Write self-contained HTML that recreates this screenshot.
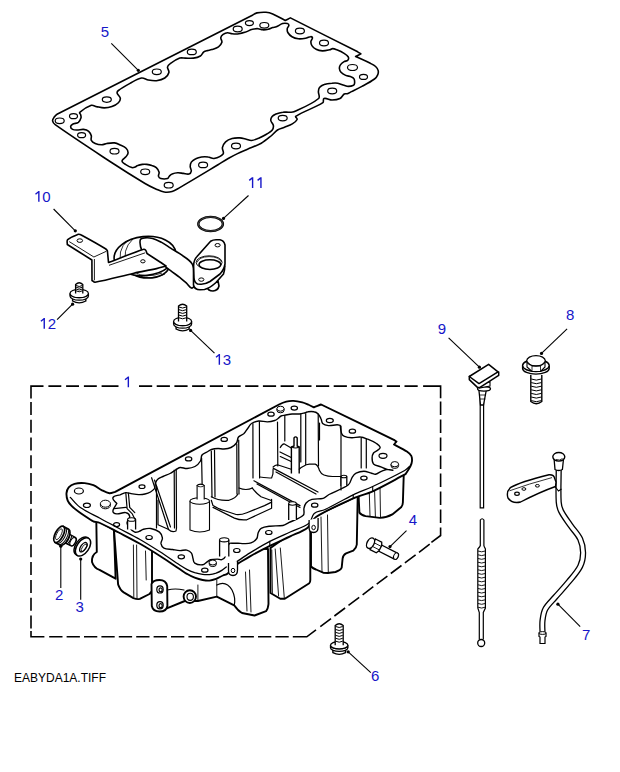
<!DOCTYPE html>
<html><head><meta charset="utf-8"><style>
html,body{margin:0;padding:0;background:#fff;}
svg{display:block;}
</style></head><body>
<svg width="620" height="772" viewBox="0 0 620 772">
<rect width="620" height="772" fill="#fff"/>
<g fill="none" stroke="#000" stroke-width="1.6" stroke-linejoin="round" stroke-linecap="round">
<path d="M52.6,120.8 C52.4,119.7 53.3,118.6 53.9,117.6 C54.8,116.3 55.6,114.9 57.0,114.2 C121.9,80.7 187.3,48.2 252.4,15.2 C253.9,14.4 255.3,13.3 256.9,12.9 C259.9,12.3 263.0,12.1 266.0,12.3 C268.3,12.5 270.6,13.1 272.7,14.0 C277.0,15.8 281.0,18.3 285.2,20.5 C286.9,19.6 288.7,18.8 290.4,17.9 C312.8,29.2 335.3,40.5 357.7,51.8 C358.8,52.5 359.8,53.2 360.9,53.9 C359.1,54.8 357.4,55.6 355.6,56.5 C360.5,58.8 365.5,60.9 370.3,63.3 C372.1,64.2 374.1,65.1 375.6,66.5 C376.8,67.6 377.8,69.0 378.2,70.6 C378.5,72.0 378.3,73.5 377.7,74.8 C377.0,76.4 375.9,78.0 374.5,79.0 C370.6,81.9 366.2,84.1 361.9,86.4 C358.5,88.3 355.0,89.9 351.5,91.6 C350.1,92.3 348.8,93.2 347.3,93.7 C346.3,94.0 345.1,93.4 344.2,94.0 C342.5,95.1 341.8,97.6 340.0,98.5 C337.6,99.7 334.7,100.0 332.0,100.0 C329.3,100.0 326.6,97.7 324.0,98.5 C322.6,98.9 324.1,101.9 322.9,102.7 C314.4,108.1 304.3,110.8 295.8,116.3 C294.8,116.9 297.6,118.5 297.1,119.5 C296.2,121.5 294.1,122.8 292.3,123.9 C289.9,125.4 287.1,126.2 284.5,127.3 C282.2,128.3 279.6,128.6 277.5,130.0 C275.0,131.6 273.3,134.1 271.0,136.0 C267.9,138.5 264.8,141.2 261.3,143.2 C256.9,145.7 252.1,147.2 247.5,149.2 C244.2,150.7 240.8,152.0 237.5,153.6 C234.3,155.1 231.2,156.8 228.2,158.5 C224.7,160.5 221.4,162.7 218.0,164.8 C205.0,172.6 192.0,180.5 178.9,188.1 C176.7,189.4 174.5,190.9 172.1,191.5 C169.5,192.2 166.8,192.4 164.2,192.0 C161.4,191.6 158.9,190.3 156.3,189.2 C152.4,187.5 148.6,185.7 145.0,183.5 C133.2,176.4 121.5,169.0 110.0,161.5 C91.6,149.4 73.1,137.4 55.2,124.7 C53.9,123.8 52.9,122.3 52.6,120.8Z"/>
<path d="M79.7,112.4 C83.1,109.4 87.0,106.8 91.3,105.3 C93.0,104.7 94.7,106.2 96.5,106.6 C99.1,107.1 101.6,107.9 104.2,107.9 C106.8,107.9 109.5,107.5 111.9,106.6 C114.3,105.7 116.6,104.5 118.4,102.7 C119.6,101.5 120.5,99.8 120.3,98.2 C120.0,96.2 117.6,95.0 117.1,93.1 C116.9,92.2 117.6,91.1 118.4,90.5 C122.0,87.8 126.0,85.6 130.0,83.4 C133.7,81.4 137.3,78.8 141.5,78.0 C143.8,77.6 146.0,79.6 148.3,80.0 C151.0,80.5 153.8,81.0 156.5,80.7 C159.4,80.3 162.4,79.6 164.8,78.0 C166.7,76.7 168.4,74.7 168.9,72.5 C169.4,70.7 167.2,68.9 167.5,67.0 C167.7,65.6 169.0,64.4 170.2,63.6 C173.2,61.4 176.3,59.4 179.8,58.1 C181.5,57.5 183.5,58.1 185.3,58.1 C188.0,58.1 190.8,58.5 193.5,58.1 C195.9,57.8 198.3,57.2 200.4,56.0 C201.9,55.1 202.4,53.0 203.8,51.9 C204.8,51.1 206.1,50.9 207.3,50.6 C208.8,50.2 210.3,50.1 211.8,49.6 C214.1,48.8 216.5,48.2 218.5,46.8 C220.0,45.7 221.4,44.1 221.9,42.3 C222.3,40.8 220.6,39.3 220.8,37.7 C221.0,36.4 222.0,35.2 223.1,34.4 C224.4,33.5 226.0,32.8 227.6,32.7 C229.1,32.6 230.6,33.7 232.1,33.8 C234.4,34.0 236.7,34.1 238.9,33.8 C241.2,33.5 243.4,32.8 245.6,32.1 C247.9,31.3 250.0,29.9 252.4,29.3 C254.2,28.8 256.2,28.6 258.1,28.7 C259.6,28.8 261.1,29.7 262.6,29.8 C264.5,29.9 266.4,29.7 268.2,29.3 C269.8,29.0 271.2,28.1 272.7,27.6 C273.9,27.2 275.2,27.3 276.3,26.8 C278.5,25.9 280.3,24.3 282.6,23.6 C284.1,23.2 285.8,23.2 287.3,23.6 C288.0,23.8 288.9,24.4 288.9,25.2 C288.9,26.4 287.5,27.2 287.3,28.3 C287.1,29.7 287.1,31.3 287.8,32.5 C288.8,34.2 290.3,35.7 292.0,36.7 C293.9,37.8 296.1,38.5 298.3,38.8 C300.7,39.1 303.2,38.7 305.6,38.3 C307.3,38.0 308.7,36.8 310.4,36.7 C311.2,36.6 312.4,37.0 312.5,37.8 C312.6,39.1 311.0,40.2 310.9,41.5 C310.8,42.9 311.1,44.4 311.9,45.6 C312.9,47.2 314.4,48.5 316.1,49.3 C318.0,50.3 320.2,50.8 322.4,50.9 C324.9,51.0 327.4,50.3 329.8,49.8 C330.8,49.6 331.6,48.6 332.6,48.6 C334.0,48.6 335.5,49.2 336.8,49.7 C339.3,50.7 341.8,51.8 344.1,53.3 C345.7,54.3 347.4,55.4 348.3,57.0 C348.8,58.0 348.5,59.4 347.8,60.2 C346.9,61.2 345.2,61.0 344.1,61.7 C342.7,62.6 341.3,63.6 340.4,64.9 C339.7,65.9 339.3,67.3 339.4,68.5 C339.5,69.8 340.1,71.2 341.0,72.2 C342.3,73.6 344.0,74.6 345.7,75.4 C347.5,76.2 349.7,76.1 351.5,76.9 C352.5,77.3 353.6,78.0 354.1,79.0 C354.7,80.3 354.7,81.8 354.6,83.2 C354.5,84.0 354.2,84.9 353.5,85.3 C351.9,86.1 350.1,86.4 348.3,86.4 C346.9,86.4 345.5,85.7 344.1,85.3 C342.0,84.7 340.0,83.6 337.8,83.2 C335.9,82.9 333.9,83.0 331.9,83.2 C329.3,83.4 326.7,83.6 324.2,84.5 C322.4,85.1 320.7,86.1 319.5,87.5 C318.6,88.6 318.5,90.1 318.4,91.5 C318.2,93.8 320.4,97.0 318.6,98.5 C311.4,104.5 302.4,107.9 293.9,111.8 C292.4,112.5 290.6,112.1 289.0,112.2 C287.0,112.3 284.9,111.9 282.9,112.2 C280.5,112.5 278.2,113.1 276.0,114.0 C274.6,114.6 273.1,115.3 272.1,116.5 C271.2,117.6 270.6,119.1 270.8,120.5 C271.1,122.4 273.1,123.7 273.4,125.6 C273.6,127.2 273.1,128.9 272.1,130.2 C270.8,131.9 268.7,132.9 266.9,134.0 C264.4,135.5 261.9,136.8 259.2,137.9 C256.7,139.0 254.2,140.2 251.5,140.5 C249.7,140.7 248.0,139.6 246.3,139.2 C244.1,138.7 242.0,138.0 239.8,137.9 C237.2,137.8 234.6,137.8 232.1,138.5 C229.8,139.1 227.4,140.1 225.6,141.8 C224.0,143.3 222.8,145.4 222.4,147.6 C222.0,149.7 224.4,152.3 223.1,154.0 C221.0,156.7 217.3,157.8 214.0,158.5 C212.0,158.9 210.2,157.2 208.2,157.0 C206.0,156.7 203.7,156.7 201.5,157.0 C199.5,157.3 197.6,157.8 195.8,158.7 C194.1,159.5 192.4,160.6 191.3,162.1 C190.4,163.4 190.2,165.1 190.2,166.6 C190.2,168.1 191.5,169.6 191.3,171.1 C191.1,172.3 190.2,173.7 189.0,174.0 C187.2,174.5 185.3,173.6 183.4,173.4 C181.5,173.2 179.6,172.7 177.7,172.8 C175.8,172.9 173.9,173.3 172.1,174.0 C171.0,174.4 170.1,175.4 169.3,176.2 C168.6,176.9 168.5,178.3 167.6,178.5 C165.4,179.1 163.0,179.1 160.8,178.5 C159.7,178.2 158.8,177.2 158.5,176.2 C158.2,174.9 159.4,173.6 159.1,172.3 C158.7,170.6 157.6,168.9 156.3,167.7 C155.1,166.6 153.4,166.0 151.8,165.5 C150.2,164.9 148.5,164.6 146.8,164.4 C145.3,164.2 143.8,164.2 142.3,164.4 C140.7,164.6 139.2,165.0 137.7,165.6 C136.6,166.0 135.6,166.9 134.5,167.3 C133.7,167.6 132.7,167.9 131.9,167.6 C129.6,166.9 127.5,165.6 125.5,164.4 C124.3,163.7 123.0,163.0 122.3,161.8 C121.9,161.2 122.2,160.3 122.6,159.8 C123.5,158.5 125.1,157.8 126.1,156.6 C127.0,155.4 128.1,154.2 128.1,152.7 C128.1,151.1 127.3,149.4 126.1,148.2 C124.5,146.6 122.3,145.9 120.3,145.0 C118.4,144.1 116.5,143.1 114.5,142.9 C111.9,142.6 109.3,143.1 106.8,143.5 C105.0,143.8 103.4,144.8 101.6,144.8 C99.4,144.8 97.2,144.4 95.2,143.5 C93.7,142.8 92.1,141.8 91.3,140.3 C90.6,139.0 91.7,137.2 91.3,135.8 C90.8,134.1 90.0,132.4 88.7,131.3 C87.3,130.1 85.3,129.6 83.5,129.4 C81.4,129.2 79.2,130.0 77.1,130.0 C75.6,130.0 74.0,130.1 72.6,129.4 C71.6,128.9 70.6,127.9 70.6,126.8 C70.6,125.7 71.7,124.7 72.6,124.2 C74.4,123.2 76.8,123.5 78.4,122.3 C79.8,121.2 80.5,119.4 81.0,117.7 C81.3,116.7 80.9,115.5 80.6,114.5 C80.4,113.8 79.1,112.9 79.7,112.4Z"/>
</g>
<g fill="none" stroke="#000" stroke-width="1.2">
<ellipse cx="59.7" cy="120.8" rx="4.5" ry="2.8"/>
<ellipse cx="73.5" cy="116.2" rx="4.0" ry="2.5"/>
<ellipse cx="81.6" cy="135.2" rx="4.0" ry="2.5"/>
<ellipse cx="106.8" cy="99.6" rx="4.5" ry="2.7"/>
<ellipse cx="114.5" cy="151.2" rx="4.5" ry="2.8"/>
<ellipse cx="145.2" cy="171.8" rx="4.5" ry="2.8"/>
<ellipse cx="156.8" cy="71.8" rx="4.5" ry="2.8"/>
<ellipse cx="168.7" cy="185.2" rx="4.5" ry="2.8"/>
<ellipse cx="191.8" cy="51.9" rx="4.5" ry="2.8"/>
<ellipse cx="203.1" cy="164.9" rx="4.5" ry="2.8"/>
<ellipse cx="236.0" cy="146.0" rx="4.5" ry="2.8"/>
<ellipse cx="237.7" cy="29.0" rx="4.5" ry="2.8"/>
<ellipse cx="249.4" cy="23.1" rx="4.0" ry="2.5"/>
<ellipse cx="264.3" cy="25.3" rx="4.5" ry="2.8"/>
<ellipse cx="282.7" cy="118.1" rx="4.5" ry="2.8"/>
<ellipse cx="299.9" cy="31.0" rx="4.5" ry="2.8"/>
<ellipse cx="324.0" cy="43.0" rx="4.5" ry="2.8"/>
<ellipse cx="332.2" cy="91.0" rx="4.5" ry="2.8"/>
<ellipse cx="352.5" cy="67.5" rx="5.0" ry="3.0"/>
<ellipse cx="363.5" cy="76.9" rx="4.0" ry="2.5"/>
</g>
<ellipse cx="148" cy="266" rx="21" ry="12" fill="#fff" stroke="#000" stroke-width="1.6" stroke-linejoin="round"/>
<ellipse cx="145" cy="256" rx="31" ry="19.5" transform="rotate(-6 145 256)" fill="#fff" stroke="#000" stroke-width="1.6" stroke-linejoin="round"/>
<g fill="none" stroke="#000" stroke-width="0.8">
<path d="M122,268 Q116,250 128,240"/>
<path d="M127,266 Q121,250 133,239"/>
<path d="M134,272 Q146,279 162,273"/>
<path d="M137,275 Q150,281 165,274"/>
</g>
<path d="M140.2,240.2 C140.5,238.6 143.0,238.1 144.7,237.9 C147.3,237.5 150.0,237.8 152.6,238.5 C155.8,239.3 158.7,240.9 161.6,242.4 C164.7,244.1 167.6,246.2 170.6,248.1 C173.6,250.0 176.8,251.6 179.7,253.7 C184.0,256.9 189.4,259.3 192.1,263.9 C194.8,268.6 195.0,274.5 195.0,280.0 C195.0,282.8 194.9,287.0 192.3,288.0 C189.9,288.9 188.4,284.7 186.5,283.1 C184.2,281.2 182.0,279.2 179.7,277.4 C176.7,275.1 173.6,272.9 170.6,270.6 C167.6,268.4 164.7,266.0 161.6,263.9 C158.7,261.9 155.7,259.9 152.6,258.2 C150.8,257.2 148.6,257.1 146.9,256.0 C145.0,254.7 142.9,253.1 142.0,251.0 C140.6,247.6 139.5,243.8 140.2,240.2Z" fill="#fff" stroke="#000" stroke-width="1.6" stroke-linejoin="round"/>
<path d="M207,287 Q208,291 213,291 Q218,290.5 219,286 L218,281 Z" fill="#fff" stroke="#000" stroke-width="1.6" stroke-linejoin="round"/>
<path d="M193.5,266 L193.5,285 Q194.5,289.8 200,289.8 L204.5,289.5 Q210,288 216,282.5 L223.5,274 Q224.8,270.5 224.8,266 Z" fill="#fff" stroke="#000" stroke-width="1.6" stroke-linejoin="round"/>
<path d="M210.6,241.2 Q213,239.8 216,239.8 L220,239.8 Q223.9,240.5 225,245 L225,264 Q224,270 220,274 L210,281.5 Q205,284.5 200.5,284.2 L197.5,284 Q194.3,282.5 194,278 L193.6,266 Q193.6,260 197,256.5 Z" fill="#fff" stroke="#000" stroke-width="1.6" stroke-linejoin="round"/>
<ellipse cx="209.1" cy="262.4" rx="13" ry="6.6" fill="#fff" stroke="#000" stroke-width="0.9"/>
<path d="M197,262.5 Q199,256.8 209.1,256.6 Q219,256.8 221.5,262" fill="none" stroke="#000" stroke-width="0.8"/>
<ellipse cx="209.9" cy="264.6" rx="10.9" ry="4.8" fill="#fff" stroke="#000" stroke-width="1.5"/>
<ellipse cx="217.6" cy="245.2" rx="2.6" ry="1.7" fill="none" stroke="#000" stroke-width="1"/>
<ellipse cx="201.3" cy="279.6" rx="2.6" ry="1.7" fill="none" stroke="#000" stroke-width="1"/>
<path d="M67.3,244.5 C67.4,242.9 66.5,240.7 67.7,239.6 C70.6,236.9 74.7,235.7 78.4,234.3 C79.2,234.0 80.1,234.4 80.8,234.8 C89.1,239.3 97.4,243.9 105.5,248.8 C106.3,249.3 106.8,250.1 107.4,250.7 C107.8,254.6 108.1,258.5 108.5,262.4 C120.0,258.1 131.3,253.4 142.9,249.5 C143.7,249.2 144.9,249.4 145.5,250.0 C146.4,250.9 146.5,252.3 147.0,253.5 C151.3,256.3 155.7,259.2 160.0,262.0 C162.0,263.3 164.0,264.7 166.0,266.0 C162.8,266.9 159.7,267.9 156.5,268.6 C149.0,270.3 141.4,271.5 133.9,273.2 C120.9,276.1 108.1,279.9 95.0,282.2 C93.9,282.4 93.0,281.1 92.0,280.5 C92.0,273.7 91.9,266.8 91.9,260.0 C83.7,254.8 75.5,249.7 67.3,244.5Z" fill="#fff" stroke="#000" stroke-width="1.6" stroke-linejoin="round"/>
<g fill="none" stroke="#000" stroke-width="0.9">
<path d="M69.2,241.6 L93.9,257 L106.5,251.2"/>
<path d="M94.4,259 L94.4,280.3"/>
<path d="M109,265.3 L145.2,252.8"/>
</g>
<ellipse cx="79.8" cy="240.6" rx="2.8" ry="1.8" fill="none" stroke="#000" stroke-width="1"/>
<ellipse cx="142.9" cy="261.3" rx="2.2" ry="1.6" fill="none" stroke="#000" stroke-width="1"/>
<ellipse cx="210.6" cy="224" rx="12.3" ry="7.1" fill="none" stroke="#000" stroke-width="2.4"/>
<ellipse cx="210.6" cy="224" rx="12.3" ry="7.1" fill="none" stroke="#888" stroke-width="0.5"/>
<path d="M72.6,294.5 L72.6,301.0 Q79.2,304.8 85.8,301.0 L85.8,294.5" fill="#fff" stroke="#000" stroke-width="1.4"/>
<path d="M72.6,297.4 Q79.2,301.2 85.8,297.4" fill="none" stroke="#000" stroke-width="0.8"/>
<path d="M70.0,293.5 A9.2,4.2 0 0 0 88.4,293.5 L88.4,296.0 A9.2,4.2 0 0 1 70.0,296.0 Z" fill="#fff" stroke="#000" stroke-width="1.3"/>
<ellipse cx="79.2" cy="293.5" rx="9.2" ry="4.2" fill="#fff" stroke="#000" stroke-width="1.3"/>
<path d="M75.6,293.5 L75.6,284.5 Q79.2,281.0 82.8,284.5 L82.8,293.5" fill="#fff" stroke="#000" stroke-width="1.3"/>
<path d="M76.1,285.5 Q79.2,287.5 82.3,285.5" fill="none" stroke="#000" stroke-width="1.0"/>
<path d="M76.1,287.2 Q79.2,289.2 82.3,287.2" fill="none" stroke="#000" stroke-width="1.0"/>
<path d="M76.1,289.0 Q79.2,291.0 82.3,289.0" fill="none" stroke="#000" stroke-width="1.0"/>
<path d="M76.1,290.8 Q79.2,292.8 82.3,290.8" fill="none" stroke="#000" stroke-width="1.0"/>
<path d="M176.1,322.5 L176.1,329.0 Q182.6,332.8 189.1,329.0 L189.1,322.5" fill="#fff" stroke="#000" stroke-width="1.4"/>
<path d="M176.1,325.4 Q182.6,329.2 189.1,325.4" fill="none" stroke="#000" stroke-width="0.8"/>
<path d="M173.6,321.5 A9.0,4.2 0 0 0 191.6,321.5 L191.6,324.0 A9.0,4.2 0 0 1 173.6,324.0 Z" fill="#fff" stroke="#000" stroke-width="1.3"/>
<ellipse cx="182.6" cy="321.5" rx="9.0" ry="4.2" fill="#fff" stroke="#000" stroke-width="1.3"/>
<path d="M178.5,321.5 L178.5,306.0 Q182.6,302.5 186.7,306.0 L186.7,321.5" fill="#fff" stroke="#000" stroke-width="1.3"/>
<path d="M179.0,307.0 Q182.6,309.0 186.2,307.0" fill="none" stroke="#000" stroke-width="1.0"/>
<path d="M179.0,309.7 Q182.6,311.7 186.2,309.7" fill="none" stroke="#000" stroke-width="1.0"/>
<path d="M179.0,312.4 Q182.6,314.4 186.2,312.4" fill="none" stroke="#000" stroke-width="1.0"/>
<path d="M179.0,315.1 Q182.6,317.1 186.2,315.1" fill="none" stroke="#000" stroke-width="1.0"/>
<path d="M179.0,317.8 Q182.6,319.8 186.2,317.8" fill="none" stroke="#000" stroke-width="1.0"/>
<path d="M332.9,646.2 L332.9,652.7 Q339.2,656.0 345.5,652.7 L345.5,646.2" fill="#fff" stroke="#000" stroke-width="1.4"/>
<path d="M332.9,649.1 Q339.2,652.5 345.5,649.1" fill="none" stroke="#000" stroke-width="0.8"/>
<path d="M330.5,645.2 A8.7,3.7 0 0 0 347.9,645.2 L347.9,647.7 A8.7,3.7 0 0 1 330.5,647.7 Z" fill="#fff" stroke="#000" stroke-width="1.3"/>
<ellipse cx="339.2" cy="645.2" rx="8.7" ry="3.7" fill="#fff" stroke="#000" stroke-width="1.3"/>
<path d="M335.2,645.2 L335.2,625.5 Q339.2,622.0 343.2,625.5 L343.2,645.2" fill="#fff" stroke="#000" stroke-width="1.3"/>
<path d="M335.7,626.5 Q339.2,628.5 342.7,626.5" fill="none" stroke="#000" stroke-width="1.0"/>
<path d="M335.7,629.5 Q339.2,631.5 342.7,629.5" fill="none" stroke="#000" stroke-width="1.0"/>
<path d="M335.7,632.4 Q339.2,634.4 342.7,632.4" fill="none" stroke="#000" stroke-width="1.0"/>
<path d="M335.7,635.4 Q339.2,637.4 342.7,635.4" fill="none" stroke="#000" stroke-width="1.0"/>
<path d="M335.7,638.3 Q339.2,640.3 342.7,638.3" fill="none" stroke="#000" stroke-width="1.0"/>
<path d="M335.7,641.2 Q339.2,643.2 342.7,641.2" fill="none" stroke="#000" stroke-width="1.0"/>
<path d="M530.8,375 L530.8,401.5 Q536.3,406 541.8,401.5 L541.8,375" fill="#fff" stroke="#000" stroke-width="1.4"/>
<path d="M531.2,379.0 Q536.3,381.2 541.4,379.0" fill="none" stroke="#000" stroke-width="1.0"/>
<path d="M531.2,382.6 Q536.3,384.8 541.4,382.6" fill="none" stroke="#000" stroke-width="1.0"/>
<path d="M531.2,386.2 Q536.3,388.4 541.4,386.2" fill="none" stroke="#000" stroke-width="1.0"/>
<path d="M531.2,389.8 Q536.3,392.0 541.4,389.8" fill="none" stroke="#000" stroke-width="1.0"/>
<path d="M531.2,393.4 Q536.3,395.6 541.4,393.4" fill="none" stroke="#000" stroke-width="1.0"/>
<path d="M531.2,397.0 Q536.3,399.2 541.4,397.0" fill="none" stroke="#000" stroke-width="1.0"/>
<path d="M531.2,400.6 Q536.3,402.8 541.4,400.6" fill="none" stroke="#000" stroke-width="1.0"/>
<path d="M522.6,365.5 L522.6,368.5 A13.3,5.6 0 0 0 549.2,368.5 L549.2,365.5" fill="#fff" stroke="#000" stroke-width="1.4"/>
<ellipse cx="535.9" cy="365.5" rx="13.3" ry="6" fill="#fff" stroke="#000" stroke-width="1.4"/>
<path d="M527,361.5 L527,367 L532,371.5 L540.5,371.5 L545,367 L545,361.5" fill="#fff" stroke="#000" stroke-width="1.1"/>
<ellipse cx="536" cy="360.8" rx="9.3" ry="5.2" fill="#fff" stroke="#000" stroke-width="1.3"/>
<path d="M532,366 L532,371.5 M540.5,366 L540.5,371.5 M527,361.5 L532,366 L540.5,366 L545,361.5" fill="none" stroke="#000" stroke-width="0.8"/>
<g transform="translate(379,547.5) rotate(27)">
<path d="M0,-3.4 L19,-3.4 A2.2,3.4 0 0 1 19,3.4 L0,3.4 Z" fill="#fff" stroke="#000" stroke-width="1.3"/>
<ellipse cx="19" cy="0" rx="2.2" ry="3.4" fill="#fff" stroke="#000" stroke-width="1"/>
<path d="M-7,-6 L0,-6 L1.5,-3 L1.5,3 L0,6 L-7,6 Z" fill="#fff" stroke="#000" stroke-width="1.3"/>
<path d="M-7,-2 L1.5,-2 M-7,2 L1.5,2" stroke="#000" stroke-width="0.8"/>
<ellipse cx="-9.5" cy="0" rx="3.5" ry="5.6" fill="#fff" stroke="#000" stroke-width="1.4"/>
</g>
<g transform="translate(64.5,537.2) rotate(28)">
<path d="M0,-5 L9.5,-5 A2.5,4.5 0 0 1 9.5,4.5 L0,5 Z" fill="#fff" stroke="#000" stroke-width="1.4"/>
<path d="M1.5,-5 Q3.5,0 1.5,5" fill="none" stroke="#000" stroke-width="1.1"/>
<path d="M3.5,-5 Q5.5,0 3.5,5" fill="none" stroke="#000" stroke-width="1.1"/>
<path d="M5.5,-5 Q7.5,0 5.5,5" fill="none" stroke="#000" stroke-width="1.1"/>
<path d="M7.5,-5 Q9.5,0 7.5,5" fill="none" stroke="#000" stroke-width="1.1"/>
<ellipse cx="9.5" cy="0" rx="2.4" ry="4.4" fill="#fff" stroke="#000" stroke-width="1.1"/>
<path d="M-6,-9 L0,-9 A4,9 0 0 1 0,9 L-6,9 Z" fill="#fff" stroke="#000" stroke-width="1.7"/>
<ellipse cx="-6" cy="0" rx="4" ry="9" fill="#fff" stroke="#000" stroke-width="1.7"/>
<path d="M-3.5,-8.6 A3.6,8.6 0 0 1 -3.5,8.6 M-1.5,-8.9 A3.8,8.9 0 0 1 -1.5,8.9" fill="none" stroke="#000" stroke-width="1"/>
<ellipse cx="-6.3" cy="0" rx="2.2" ry="6" fill="none" stroke="#000" stroke-width="0.8"/>
</g>
<g transform="translate(82.5,546.6) rotate(35)">
<ellipse cx="-1" cy="0" rx="6" ry="10.3" fill="#fff" stroke="#000" stroke-width="1.5"/>
<ellipse cx="0.6" cy="0" rx="6" ry="10.3" fill="#fff" stroke="#000" stroke-width="1.5"/>
<ellipse cx="1" cy="0" rx="2.6" ry="5.4" fill="#fff" stroke="#000" stroke-width="1.3"/>
<ellipse cx="2" cy="0" rx="1.8" ry="4.4" fill="none" stroke="#000" stroke-width="0.8"/>
</g>
<path d="M480.2,391 L480.2,507.8 L483.6,507.8 L483.6,391" fill="#fff" stroke="#000" stroke-width="1.2"/>
<path d="M478.8,389 L480.5,405 L483.5,405 L486.5,389 Z" fill="#fff" stroke="#000" stroke-width="1.3"/>
<path d="M479.5,395 L486,395 M480,399 L485.3,399" stroke="#000" stroke-width="0.8"/>
<ellipse cx="484" cy="388.8" rx="6.5" ry="2.3" fill="#fff" stroke="#000" stroke-width="1.3"/>
<path d="M479.4,384 L479.4,388 L490,386 L490,382 Z" fill="#fff" stroke="#000" stroke-width="1.1"/>
<path d="M469.3,376.5 L469.3,379.6 L477.7,387.6 L479.6,387.6 L498.7,375.4 L498.7,372 Z" fill="#fff" stroke="#000" stroke-width="1.5" stroke-linejoin="round"/>
<path d="M469.3,376.5 L488.6,364.3 L498,371.8 L479,383.6 Z" fill="#fff" stroke="#000" stroke-width="1.5" stroke-linejoin="round"/>
<path d="M480.3,546 L480.3,520 Q482.1,517.5 483.9,520 L483.9,546" fill="#fff" stroke="#000" stroke-width="1.2"/>
<path d="M480.3,546 L477.8,549 L477.8,608 L479.3,612.5 L479.3,639.5 M483.9,546 L485.4,549 L485.4,608 L483.3,612.5 L483.3,639.5" fill="none" stroke="#000" stroke-width="1.2"/>
<path d="M478,551.0 Q481.6,552.6 485.2,551.0" fill="none" stroke="#000" stroke-width="0.9"/>
<path d="M478,554.8 Q481.6,556.4 485.2,554.8" fill="none" stroke="#000" stroke-width="0.9"/>
<path d="M478,558.5 Q481.6,560.1 485.2,558.5" fill="none" stroke="#000" stroke-width="0.9"/>
<path d="M478,562.2 Q481.6,563.9 485.2,562.2" fill="none" stroke="#000" stroke-width="0.9"/>
<path d="M478,566.0 Q481.6,567.6 485.2,566.0" fill="none" stroke="#000" stroke-width="0.9"/>
<path d="M478,569.8 Q481.6,571.4 485.2,569.8" fill="none" stroke="#000" stroke-width="0.9"/>
<path d="M478,573.5 Q481.6,575.1 485.2,573.5" fill="none" stroke="#000" stroke-width="0.9"/>
<path d="M478,577.2 Q481.6,578.9 485.2,577.2" fill="none" stroke="#000" stroke-width="0.9"/>
<path d="M478,581.0 Q481.6,582.6 485.2,581.0" fill="none" stroke="#000" stroke-width="0.9"/>
<path d="M478,584.8 Q481.6,586.4 485.2,584.8" fill="none" stroke="#000" stroke-width="0.9"/>
<path d="M478,588.5 Q481.6,590.1 485.2,588.5" fill="none" stroke="#000" stroke-width="0.9"/>
<path d="M478,592.2 Q481.6,593.9 485.2,592.2" fill="none" stroke="#000" stroke-width="0.9"/>
<path d="M478,596.0 Q481.6,597.6 485.2,596.0" fill="none" stroke="#000" stroke-width="0.9"/>
<path d="M478,599.8 Q481.6,601.4 485.2,599.8" fill="none" stroke="#000" stroke-width="0.9"/>
<path d="M478,603.5 Q481.6,605.1 485.2,603.5" fill="none" stroke="#000" stroke-width="0.9"/>
<path d="M478,607.2 Q481.6,608.9 485.2,607.2" fill="none" stroke="#000" stroke-width="0.9"/>
<circle cx="481.2" cy="643" r="3.5" fill="#fff" stroke="#000" stroke-width="1.3"/>
<path d="M558.7,470.0 C558.7,480.7 558.1,491.4 558.7,502.0 C558.9,505.1 559.6,508.2 561.0,511.0 C563.6,516.2 567.2,520.7 570.5,525.5 C573.6,530.1 577.9,534.0 580.2,539.1 C582.1,543.3 583.1,548.1 583.1,552.7 C583.1,557.3 582.3,562.1 580.2,566.3 C577.3,572.1 572.7,576.9 568.6,581.9 C564.3,587.2 559.5,592.2 555.0,597.4 C551.7,601.2 547.7,604.6 545.3,609.1 C543.4,612.6 543.0,616.7 542.5,620.7 C542.0,624.8 542.5,628.9 542.5,633.0" fill="none" stroke="#000" stroke-width="6.2" stroke-linecap="butt"/>
<path d="M558.7,470.0 C558.7,480.7 558.1,491.4 558.7,502.0 C558.9,505.1 559.6,508.2 561.0,511.0 C563.6,516.2 567.2,520.7 570.5,525.5 C573.6,530.1 577.9,534.0 580.2,539.1 C582.1,543.3 583.1,548.1 583.1,552.7 C583.1,557.3 582.3,562.1 580.2,566.3 C577.3,572.1 572.7,576.9 568.6,581.9 C564.3,587.2 559.5,592.2 555.0,597.4 C551.7,601.2 547.7,604.6 545.3,609.1 C543.4,612.6 543.0,616.7 542.5,620.7 C542.0,624.8 542.5,628.9 542.5,633.0" fill="none" stroke="#fff" stroke-width="3.6" stroke-linecap="butt"/>
<path d="M539,633 L539,636.5 L540,637 L540,643.5 L545,643.5 L545,637 L546,636.5 L546,633 Z" fill="#fff" stroke="#000" stroke-width="1.2"/>
<ellipse cx="542.5" cy="633" rx="3.6" ry="1.4" fill="#fff" stroke="#000" stroke-width="1"/>
<path d="M554,458 L555,469.5 Q558.7,471.5 562.4,469.5 L563.6,458" fill="#fff" stroke="#000" stroke-width="1.3"/>
<ellipse cx="558.8" cy="456.8" rx="6" ry="4.3" fill="#fff" stroke="#000" stroke-width="1.4"/>
<path d="M556,459.5 Q560,461 562.5,458.5" fill="none" stroke="#000" stroke-width="0.8"/>
<path d="M510.3,487.7 Q520,482 549,474.8 Q554,474.5 554.5,478 L556,482 L555.5,486.5 Q540,492 520.6,502 Q512,504 508,498 Q506,492 510.3,487.7 Z" fill="#fff" stroke="#000" stroke-width="1.4" stroke-linejoin="round"/>
<path d="M509.5,490.8 Q528,484 552,477.6" fill="none" stroke="#000" stroke-width="0.8"/>
<path d="M555,486.5 L558.5,491 L561.5,489" fill="none" stroke="#000" stroke-width="1.1"/>
<ellipse cx="517" cy="493.7" rx="2.3" ry="1.6" fill="none" stroke="#000" stroke-width="1.2"/>
<ellipse cx="523.9" cy="489" rx="2" ry="1.3" fill="none" stroke="#000" stroke-width="1"/>
<ellipse cx="537.4" cy="485.8" rx="2" ry="1.3" fill="none" stroke="#000" stroke-width="1"/>
<path d="M96.3,520 L96.8,552 Q91.5,555 92,562 Q94,568 99.5,569.8 L115.6,578.7 L114,530 Z" fill="#fff" stroke="#000" stroke-width="1.9" stroke-linejoin="round"/>
<path d="M114,530 L118.1,584.4 Q120,590 123.7,592.4 L133.4,598.1 Q137,599.5 139.8,598.9 L149.5,594 L153,590 L153,545 Z" fill="#fff" stroke="#000" stroke-width="1.9" stroke-linejoin="round"/>
<path d="M152,545 L152,600 L167.4,608.2 L184.8,601 L197.9,601 L216.8,596.6 L234.2,605.3 Q238,611 242,613 L254.5,615.5 L266.1,611.1 Q268,609 268.5,604 L268,549 Z" fill="#fff" stroke="#000" stroke-width="1.9" stroke-linejoin="round"/>
<path d="M270.5,548 L270.5,593 L280.3,598.7 L284.8,598.7 L309.3,583.2 Q310.3,582.2 310.3,580 L310.3,520 Z" fill="#fff" stroke="#000" stroke-width="1.9" stroke-linejoin="round"/>
<path d="M311,518 L311,566.5 Q313,568.5 316,569.5 L323.2,572.7 L327.7,573 L335.5,572 Q341,570 341.7,567.6 L342.6,558.7 Q343,555 346.1,553.4 L353.2,550.7 Q356.5,548 356.8,544.5 L357.7,496 Z" fill="#fff" stroke="#000" stroke-width="1.9" stroke-linejoin="round"/>
<path d="M358.6,496 L359.4,512.6 Q361,515 365.6,516.1 L379.8,517.9 Q387,517.5 392.3,514.4 L401.1,507.3 Q403,505 402.9,501.9 L403.8,473 Z" fill="#fff" stroke="#000" stroke-width="1.9" stroke-linejoin="round"/>
<path d="M151.5,584 L151.8,606 Q153,611.5 159.5,611.5 Q166.5,611.5 167.4,606 L167.2,586 Q166,580 159.5,580 Q153,580 151.5,584 Z" fill="#fff" stroke="#000" stroke-width="1.9" stroke-linejoin="round"/>
<ellipse cx="160" cy="589.4" rx="3.2" ry="3.6" fill="none" stroke="#000" stroke-width="1.2" stroke-linejoin="round" stroke-linecap="round"/><ellipse cx="160" cy="605.3" rx="3.2" ry="3.6" fill="none" stroke="#000" stroke-width="1.2" stroke-linejoin="round" stroke-linecap="round"/>
<ellipse cx="160.6" cy="589.8" rx="1.6" ry="2" fill="none" stroke="#000" stroke-width="1.2" stroke-linejoin="round" stroke-linecap="round"/><ellipse cx="160.6" cy="605.7" rx="1.6" ry="2" fill="none" stroke="#000" stroke-width="1.2" stroke-linejoin="round" stroke-linecap="round"/>
<ellipse cx="189.8" cy="596.6" rx="6.2" ry="6.4" fill="#fff" stroke="#000" stroke-width="1.9" stroke-linejoin="round"/>
<ellipse cx="190.2" cy="596.8" rx="3.2" ry="3.6" fill="none" stroke="#000" stroke-width="1.1" stroke-linejoin="round" stroke-linecap="round"/>
<path d="M145.5,551.0 L146.2,580.0" fill="none" stroke="#000" stroke-width="0.9" stroke-linejoin="round" stroke-linecap="round"/>
<path d="M133.4,545.0 L133.8,597.0" fill="none" stroke="#000" stroke-width="0.9" stroke-linejoin="round" stroke-linecap="round"/>
<path d="M136.6,545.0 L137.0,598.0" fill="none" stroke="#000" stroke-width="0.9" stroke-linejoin="round" stroke-linecap="round"/>
<path d="M245.5,572.0 L247.0,611.0" fill="none" stroke="#000" stroke-width="0.9" stroke-linejoin="round" stroke-linecap="round"/>
<path d="M249.5,570.0 L251.0,612.0" fill="none" stroke="#000" stroke-width="0.9" stroke-linejoin="round" stroke-linecap="round"/>
<path d="M271.8,550.0 L272.4,593.0" fill="none" stroke="#000" stroke-width="0.9" stroke-linejoin="round" stroke-linecap="round"/>
<path d="M275.2,549.0 L278.6,596.0" fill="none" stroke="#000" stroke-width="0.9" stroke-linejoin="round" stroke-linecap="round"/>
<path d="M280.3,548.0 L284.3,598.0" fill="none" stroke="#000" stroke-width="0.9" stroke-linejoin="round" stroke-linecap="round"/>
<path d="M321.0,517.0 L322.0,572.0" fill="none" stroke="#000" stroke-width="0.9" stroke-linejoin="round" stroke-linecap="round"/>
<path d="M327.5,515.0 L328.3,573.0" fill="none" stroke="#000" stroke-width="0.9" stroke-linejoin="round" stroke-linecap="round"/>
<path d="M369.2,490.0 L370.0,516.0" fill="none" stroke="#000" stroke-width="0.9" stroke-linejoin="round" stroke-linecap="round"/>
<path d="M374.5,488.0 L375.4,517.0" fill="none" stroke="#000" stroke-width="0.9" stroke-linejoin="round" stroke-linecap="round"/>
<path d="M380.0,486.0 L380.5,517.0" fill="none" stroke="#000" stroke-width="0.9" stroke-linejoin="round" stroke-linecap="round"/>
<path d="M197.9,585.0 L197.9,601.0" fill="none" stroke="#000" stroke-width="0.9" stroke-linejoin="round" stroke-linecap="round"/>
<path d="M216.8,580.0 L216.8,596.6" fill="none" stroke="#000" stroke-width="0.9" stroke-linejoin="round" stroke-linecap="round"/>
<path d="M167.4,590 Q175,588 184,590" fill="none" stroke="#000" stroke-width="1.2" stroke-linejoin="round" stroke-linecap="round"/>
<path d="M216.8,585 Q226,580 232,590 Q236,598 234.2,605.3" fill="none" stroke="#000" stroke-width="1.2" stroke-linejoin="round" stroke-linecap="round"/>
<path d="M66.5,493.2 C66.7,491.1 67.4,489.0 68.7,487.4 C70.2,485.7 72.3,484.4 74.5,483.8 C77.8,482.9 81.3,482.8 84.7,483.1 C87.7,483.3 90.6,484.1 93.4,485.2 C96.5,486.5 99.1,488.8 102.1,490.3 C104.4,491.5 106.8,492.9 109.4,493.2 C111.4,493.4 113.3,492.3 115.2,491.8 C169.8,462.7 224.3,433.4 279.0,404.5 C281.3,403.3 283.8,402.2 286.3,401.6 C288.6,401.0 291.1,400.8 293.5,400.9 C296.5,401.0 299.4,401.6 302.3,402.3 C304.3,402.8 306.2,403.7 308.1,404.5 C310.1,405.4 312.0,406.4 313.9,407.4 C316.3,406.4 318.7,405.5 321.1,404.5 C345.4,416.3 369.6,428.1 393.9,439.9 C394.8,440.4 395.6,441.0 396.5,441.5 C395.7,442.5 394.8,443.5 394.0,444.5 C398.3,446.8 402.8,448.8 406.9,451.5 C408.6,452.6 410.3,454.1 411.3,455.9 C412.1,457.4 412.1,459.3 412.0,461.0 C411.9,462.7 411.3,464.4 410.5,466.0 C409.1,468.9 407.2,471.5 405.5,474.2 C394.6,479.9 383.9,486.1 372.7,491.3 C366.4,494.2 359.5,495.5 353.2,498.4 C340.6,504.1 327.7,509.5 316.0,517.0 C312.2,519.5 311.2,525.0 307.6,527.7 C302.4,531.6 296.0,533.6 290.2,536.4 C283.4,539.6 276.5,542.5 269.8,545.8 C263.1,549.1 256.5,552.7 250.0,556.3 C245.9,558.6 241.9,561.2 237.9,563.6 C234.4,567.0 231.2,570.8 227.4,573.8 C226.1,574.8 224.4,574.8 222.9,575.5 C220.6,576.5 218.5,578.0 216.1,578.9 C213.9,579.7 211.7,580.4 209.4,580.6 C207.1,580.8 204.8,580.4 202.6,580.0 C199.9,579.5 197.3,578.7 194.7,577.7 C192.0,576.6 189.3,575.3 186.8,573.8 C184.4,572.5 182.3,570.8 180.0,569.3 C173.3,564.9 166.8,560.3 160.0,556.0 C153.4,551.8 146.8,547.7 140.0,543.8 C133.0,539.8 125.8,536.2 118.7,532.5 C112.5,529.3 106.4,525.8 100.0,523.0 C98.0,522.1 95.7,522.0 93.5,521.5 C92.6,521.0 91.7,520.5 90.9,520.0 C87.0,517.5 83.1,515.0 79.4,512.3 C76.7,510.3 74.0,508.2 71.6,505.8 C70.1,504.3 68.5,502.6 67.7,500.6 C66.8,498.3 66.3,495.7 66.5,493.2Z" fill="#fff" stroke="#000" stroke-width="1.9" stroke-linejoin="round"/>
<path d="M70.3,497.4 C73.5,500.7 76.2,504.6 80.0,507.2 C86.2,511.6 93.3,514.6 100.0,518.2 C106.2,521.6 112.5,524.9 118.7,528.2 C125.8,532.0 133.0,535.5 140.0,539.5 C146.8,543.4 153.4,547.6 160.0,551.8 C166.8,556.2 173.3,560.9 180.0,565.3 C182.2,566.7 184.5,568.1 186.8,569.3 C189.4,570.6 192.0,571.8 194.7,572.7 C197.3,573.5 199.9,574.1 202.6,574.4 C204.8,574.7 207.1,574.8 209.4,574.6 C211.7,574.4 213.9,573.9 216.1,573.2 C218.1,572.5 220.0,571.5 221.8,570.4 C223.4,569.4 224.8,568.1 226.3,567.0" fill="none" stroke="#000" stroke-width="1.3" stroke-linejoin="round" stroke-linecap="round"/>
<path d="M236.5,561.9 C241.0,558.9 245.4,555.7 250.0,552.9 C256.5,548.9 263.0,544.9 269.8,541.4 C276.4,537.9 283.4,535.1 290.2,532.0 C296.5,529.1 303.5,527.5 309.0,523.3 C311.9,521.0 311.4,515.9 314.2,513.5 C317.1,511.0 321.5,511.2 325.0,509.5 C334.6,504.9 343.7,499.4 353.2,494.8 C359.6,491.7 366.3,489.5 372.7,486.5 C383.5,481.4 394.2,476.2 404.7,470.5 C406.5,469.5 407.9,467.8 409.5,466.5" fill="none" stroke="#000" stroke-width="1.3" stroke-linejoin="round" stroke-linecap="round"/>
<path d="M269.8,541.4 L269.8,545.8 M353.2,494.8 L353.2,498.4 M372.7,486.5 L372.7,491.3" fill="none" stroke="#000" stroke-width="1.1" stroke-linejoin="round" stroke-linecap="round"/>
<path d="M112.9,497.7 C113.8,495.3 117.6,495.7 120.0,494.8 C121.9,494.0 123.7,492.8 125.8,492.6 C127.6,492.4 129.3,493.3 131.0,493.6 C133.6,494.0 136.1,494.5 138.7,494.6 C140.8,494.7 142.9,494.5 145.0,494.0 C146.9,493.6 148.8,493.0 150.5,492.0 C152.0,491.1 153.6,490.0 154.5,488.5 C155.4,486.9 154.9,484.7 155.5,483.0 C156.0,481.5 156.8,480.0 158.0,479.0 C159.4,477.8 161.3,477.3 163.0,476.5 C165.3,475.4 167.7,474.7 170.0,473.5 C171.9,472.5 173.6,471.1 175.5,470.0 C177.0,469.1 178.3,467.7 180.0,467.5 C182.3,467.2 184.6,468.7 187.0,468.5 C189.7,468.3 192.6,467.8 195.0,466.5 C197.3,465.2 199.2,463.2 200.5,461.0 C201.6,459.2 200.8,456.7 202.0,455.0 C203.1,453.4 205.3,453.0 207.0,452.0 C208.5,451.1 209.9,450.0 211.5,449.5 C213.6,448.8 215.8,448.6 218.0,448.5 C220.0,448.4 222.0,449.2 224.0,449.0 C226.4,448.8 228.8,448.5 231.0,447.5 C233.1,446.5 235.1,444.9 236.5,443.0 C237.7,441.3 237.2,438.7 238.5,437.0 C239.8,435.3 242.4,435.0 244.0,433.5 C245.6,431.9 246.6,429.8 248.0,428.0 C249.1,426.5 249.9,424.5 251.5,423.5 C253.6,422.1 256.2,421.3 258.7,421.0 C261.6,420.7 264.5,422.0 267.4,421.9 C269.9,421.8 272.3,421.3 274.7,420.5 C276.0,420.1 277.2,419.1 278.3,418.3 C279.3,417.6 279.9,416.5 281.0,416.0 C282.2,415.4 283.5,415.4 284.8,415.2 C287.2,414.8 289.6,414.2 292.1,414.0 C294.5,413.8 297.0,414.2 299.4,414.0 C300.9,413.9 302.3,413.6 303.7,413.2 C305.2,412.8 306.6,412.0 308.1,411.8 C310.0,411.5 312.0,411.4 313.9,411.8 C315.5,412.1 317.1,412.9 318.2,414.0 C319.6,415.4 320.3,417.3 321.1,419.0 C321.8,420.4 321.5,422.4 322.6,423.4 C324.1,424.8 326.3,425.4 328.4,425.6 C331.3,425.9 334.2,424.8 337.1,424.8 C338.2,424.8 339.2,425.2 340.2,425.4 C340.7,428.1 340.6,430.9 341.6,433.4 C342.1,434.7 343.2,435.8 344.5,436.3 C346.8,437.3 349.3,437.6 351.8,437.7 C354.7,437.8 357.6,436.7 360.5,437.0 C363.0,437.2 365.4,438.3 367.7,439.2 C370.7,440.4 373.8,441.7 376.5,443.5 C377.9,444.4 379.7,445.5 380.1,447.2 C380.4,448.4 378.8,449.3 377.9,450.1 C376.6,451.3 374.5,451.6 373.5,453.0 C372.5,454.4 372.1,456.3 372.1,458.1 C372.1,460.1 372.1,462.5 373.5,463.9 C375.4,465.8 378.4,465.8 380.8,466.8 C382.9,467.7 384.9,468.8 387.1,469.4 C389.0,469.9 392.9,470.3 392.9,470.3 C392.9,470.3 389.0,469.7 387.1,469.4 C385.2,470.0 383.2,470.5 381.3,471.3 C379.3,472.1 377.6,473.8 375.5,474.2 C374.2,474.5 372.9,473.5 371.6,473.2 C369.0,472.6 366.5,471.3 363.9,471.3 C361.2,471.3 358.5,472.0 356.1,473.2 C354.5,474.0 353.3,475.6 352.3,477.1 C350.7,479.5 350.7,483.1 348.4,484.8 C342.6,489.1 335.4,491.1 329.0,494.5 C326.9,495.6 325.4,497.8 323.2,498.4 C319.6,499.4 315.6,498.4 311.9,499.4 C309.7,500.0 307.6,501.3 306.1,503.0 C304.9,504.4 304.4,506.3 304.0,508.1 C303.4,510.5 305.0,513.6 303.2,515.3 C299.3,519.0 293.5,520.2 288.7,522.6 C286.8,523.6 285.0,525.1 282.9,525.5 C278.6,526.3 274.1,525.6 269.8,526.2 C266.8,526.6 263.7,526.9 261.1,528.4 C259.6,529.2 258.9,531.1 258.2,532.7 C257.4,534.5 257.9,536.9 256.8,538.5 C255.4,540.5 253.3,542.0 251.0,542.9 C248.7,543.8 246.1,543.5 243.7,543.6 C241.8,543.6 239.9,543.3 238.0,543.2 C236.3,543.2 234.7,543.2 233.0,543.3 C231.8,543.3 230.3,542.7 229.5,543.5 C227.7,545.2 226.8,547.7 226.0,550.0 C225.3,552.2 226.1,554.7 225.2,556.8 C224.6,558.2 223.2,559.3 221.8,559.7 C220.3,560.1 218.8,559.1 217.3,559.1 C215.0,559.1 212.7,559.1 210.5,559.7 C209.2,560.1 208.2,561.2 207.1,561.9 C205.6,562.9 204.4,564.6 202.6,564.8 C199.9,565.1 197.0,564.6 194.7,563.1 C193.3,562.2 193.5,560.1 193.0,558.5 C192.4,556.6 192.5,554.5 191.3,552.9 C190.3,551.5 188.5,550.5 186.8,550.1 C184.6,549.6 182.3,550.7 180.0,550.6 C177.5,550.5 175.1,549.9 172.6,549.5 C169.7,549.0 166.5,549.4 163.9,548.1 C162.3,547.3 161.3,545.4 161.0,543.7 C160.7,541.7 162.7,539.9 162.4,537.9 C162.1,535.8 161.2,533.5 159.5,532.1 C157.1,530.1 153.9,529.1 150.8,528.5 C148.4,528.1 145.9,528.6 143.5,529.2 C141.9,529.6 140.7,530.9 139.2,531.4 C137.8,531.9 136.2,532.6 134.8,532.1 C132.7,531.4 131.1,529.7 129.7,528.0 C128.5,526.6 127.0,524.9 127.0,523.0 C127.0,520.7 130.0,518.8 129.7,516.5 C129.5,514.7 127.6,513.0 125.8,512.6 C122.8,512.0 119.8,514.2 116.8,513.9 C115.2,513.7 112.9,512.9 112.9,511.3 C112.9,508.4 115.5,506.1 116.8,503.5 C115.5,501.6 112.1,499.9 112.9,497.7Z" fill="none" stroke="#000" stroke-width="1.4" stroke-linejoin="round"/>
<path d="M156.5,486.0 L156.5,528.0" fill="none" stroke="#000" stroke-width="1.2" stroke-linejoin="round" stroke-linecap="round"/>
<path d="M174.2,470.0 L174.5,528.0" fill="none" stroke="#000" stroke-width="1.2" stroke-linejoin="round" stroke-linecap="round"/>
<path d="M176.2,469.0 L176.5,528.0" fill="none" stroke="#000" stroke-width="1.2" stroke-linejoin="round" stroke-linecap="round"/>
<path d="M201.6,458.0 L202.5,503.0" fill="none" stroke="#000" stroke-width="1.2" stroke-linejoin="round" stroke-linecap="round"/>
<path d="M211.3,451.0 L212.0,497.0" fill="none" stroke="#000" stroke-width="1.2" stroke-linejoin="round" stroke-linecap="round"/>
<path d="M214.5,450.0 L215.0,497.0" fill="none" stroke="#000" stroke-width="1.2" stroke-linejoin="round" stroke-linecap="round"/>
<path d="M236.8,444.0 L237.0,494.0" fill="none" stroke="#000" stroke-width="1.2" stroke-linejoin="round" stroke-linecap="round"/>
<path d="M238.7,440.0 L239.0,494.0" fill="none" stroke="#000" stroke-width="1.2" stroke-linejoin="round" stroke-linecap="round"/>
<path d="M252.9,423.5 L253.0,478.0" fill="none" stroke="#000" stroke-width="1.2" stroke-linejoin="round" stroke-linecap="round"/>
<path d="M259.4,421.5 L259.6,478.0" fill="none" stroke="#000" stroke-width="1.2" stroke-linejoin="round" stroke-linecap="round"/>
<path d="M277.5,422.0 L277.8,466.0" fill="none" stroke="#000" stroke-width="1.2" stroke-linejoin="round" stroke-linecap="round"/>
<path d="M284.8,416.0 L284.8,441.0" fill="none" stroke="#000" stroke-width="1.2" stroke-linejoin="round" stroke-linecap="round"/>
<path d="M300.8,414.0 L300.8,462.0" fill="none" stroke="#000" stroke-width="1.2" stroke-linejoin="round" stroke-linecap="round"/>
<path d="M318.2,414.0 L318.5,466.0" fill="none" stroke="#000" stroke-width="1.2" stroke-linejoin="round" stroke-linecap="round"/>
<path d="M319.5,423.0 L319.5,440.0" fill="none" stroke="#000" stroke-width="1.2" stroke-linejoin="round" stroke-linecap="round"/>
<path d="M341.0,426.0 L341.0,490.0" fill="none" stroke="#000" stroke-width="1.2" stroke-linejoin="round" stroke-linecap="round"/>
<path d="M361.2,438.0 L361.2,468.0" fill="none" stroke="#000" stroke-width="1.2" stroke-linejoin="round" stroke-linecap="round"/>
<path d="M366.3,439.0 L366.3,468.0" fill="none" stroke="#000" stroke-width="1.2" stroke-linejoin="round" stroke-linecap="round"/>
<path d="M151.6,477.7 L168.5,529.5 M154.5,480 L170.5,527" fill="none" stroke="#000" stroke-width="1.2" stroke-linejoin="round" stroke-linecap="round"/>
<path d="M158,500 L158,524.8 L168.2,529.2" fill="none" stroke="#000" stroke-width="1.2" stroke-linejoin="round" stroke-linecap="round"/>
<path d="M168.5,529.5 Q172,533 176,531 L176.5,528" fill="none" stroke="#000" stroke-width="1.2" stroke-linejoin="round" stroke-linecap="round"/>
<path d="M211.3,496.8 Q218.4,501 229,500.3 Q236,498 237.9,494" fill="none" stroke="#000" stroke-width="1.2" stroke-linejoin="round" stroke-linecap="round"/>
<path d="M239,488 Q246,491 252.5,488" fill="none" stroke="#000" stroke-width="1.2" stroke-linejoin="round" stroke-linecap="round"/>
<path d="M202.5,503 Q205,506 209.5,505" fill="none" stroke="#000" stroke-width="1.2" stroke-linejoin="round" stroke-linecap="round"/>
<path d="M211.3,500.3 L213,505.6 Q218,509 225.5,511 L236.1,514.5 Q241,515 246.8,512.7 L264.5,505.6 L271.6,502.1 L271.6,499.4" fill="none" stroke="#000" stroke-width="1.2" stroke-linejoin="round" stroke-linecap="round"/>
<path d="M213,507.4 L234.4,518.1 Q240,520.5 246.8,519.8 L271.6,508.3 L271.6,502.1" fill="none" stroke="#000" stroke-width="1.2" stroke-linejoin="round" stroke-linecap="round"/>
<path d="M252.1,487.9 Q256,493 261,496.8 L270.7,500.3" fill="none" stroke="#000" stroke-width="1.2" stroke-linejoin="round" stroke-linecap="round"/>
<path d="M253.9,480.8 L300,505.6 M257,484 L300,507.5 M273.4,468.4 L318,492 M276,472 L316,494" fill="none" stroke="#000" stroke-width="1.2" stroke-linejoin="round" stroke-linecap="round"/>
<path d="M190,501 L190,530 Q199.7,534 209.5,530 L209.5,501" fill="#fff" stroke="#000" stroke-width="1.1"/>
<ellipse cx="199.7" cy="501" rx="9.8" ry="3.2" fill="#fff" stroke="#000" stroke-width="1.1"/>
<path d="M197.1,499.5 L197.1,485.5 Q200.6,483 204.2,485.5 L204.2,499.5" fill="#fff" stroke="#000" stroke-width="1.1"/>
<ellipse cx="200.6" cy="485.5" rx="3.5" ry="1.3" fill="none" stroke="#000" stroke-width="0.8"/>
<path d="M291.4,473.5 L291.4,447 L294,446 L294,438 Q295.6,435.8 297.2,438 L297.2,446 L299.2,447 L299.2,473.5" fill="#fff" stroke="#000" stroke-width="1.4"/>
<path d="M292,447 Q295.5,449 299,447" fill="none" stroke="#000" stroke-width="1.2" stroke-linejoin="round" stroke-linecap="round"/>
<path d="M288.7,503.5 L288.7,520.0 L296.4,520.0 L296.4,503.5" fill="#fff" stroke="none"/>
<path d="M288.7,503.5 L288.7,520.0 M296.4,503.5 L296.4,520.0" fill="none" stroke="#000" stroke-width="1.3"/>
<ellipse cx="292.5" cy="503.5" rx="3.8" ry="1.7" fill="#fff" stroke="#000" stroke-width="1.1"/>
<path d="M341.0,476.5 L341.0,486.0 L346.8,486.0 L346.8,476.5" fill="#fff" stroke="none"/>
<path d="M341.0,476.5 L341.0,486.0 M346.8,476.5 L346.8,486.0" fill="none" stroke="#000" stroke-width="1.3"/>
<ellipse cx="343.9" cy="476.5" rx="2.9" ry="1.3" fill="#fff" stroke="#000" stroke-width="1.1"/>
<path d="M127.6,519.5 L127.6,529.5 L135.6,529.5 L135.6,519.5" fill="#fff" stroke="none"/>
<path d="M127.6,519.5 L127.6,529.5 M135.6,519.5 L135.6,529.5" fill="none" stroke="#000" stroke-width="1.3"/>
<ellipse cx="131.6" cy="519.5" rx="4.0" ry="1.8" fill="#fff" stroke="#000" stroke-width="1.1"/>
<path d="M219.6,539.8 L219.6,556.5 L228.8,556.5 L228.8,539.8" fill="#fff" stroke="none"/>
<path d="M219.6,539.8 L219.6,556.5 M228.8,539.8 L228.8,556.5" fill="none" stroke="#000" stroke-width="1.3"/>
<ellipse cx="224.2" cy="539.8" rx="4.6" ry="2.1" fill="#fff" stroke="#000" stroke-width="1.1"/>
<ellipse cx="78.9" cy="491.0" rx="4.5" ry="3.0" fill="none" stroke="#000" stroke-width="1.2"/>
<ellipse cx="86.9" cy="505.3" rx="3.5" ry="2.2" fill="none" stroke="#000" stroke-width="1.2"/>
<ellipse cx="116.6" cy="524.6" rx="3.0" ry="2.0" fill="none" stroke="#000" stroke-width="1.2"/>
<ellipse cx="142.0" cy="486.7" rx="3.0" ry="1.8" fill="none" stroke="#000" stroke-width="1.2"/>
<ellipse cx="149.1" cy="537.5" rx="3.2" ry="2.0" fill="none" stroke="#000" stroke-width="1.2"/>
<ellipse cx="181.3" cy="556.8" rx="3.2" ry="2.0" fill="none" stroke="#000" stroke-width="1.2"/>
<ellipse cx="188.6" cy="458.9" rx="3.2" ry="2.0" fill="none" stroke="#000" stroke-width="1.2"/>
<ellipse cx="204.8" cy="570.2" rx="3.2" ry="2.0" fill="none" stroke="#000" stroke-width="1.2"/>
<ellipse cx="224.2" cy="439.4" rx="3.2" ry="2.0" fill="none" stroke="#000" stroke-width="1.2"/>
<ellipse cx="236.8" cy="550.5" rx="3.2" ry="2.0" fill="none" stroke="#000" stroke-width="1.2"/>
<ellipse cx="268.8" cy="532.5" rx="3.2" ry="2.0" fill="none" stroke="#000" stroke-width="1.2"/>
<ellipse cx="271.0" cy="414.2" rx="3.2" ry="2.0" fill="none" stroke="#000" stroke-width="1.2"/>
<ellipse cx="294.3" cy="408.1" rx="3.2" ry="2.0" fill="none" stroke="#000" stroke-width="1.2"/>
<ellipse cx="314.7" cy="505.2" rx="3.2" ry="2.0" fill="none" stroke="#000" stroke-width="1.2"/>
<ellipse cx="329.8" cy="420.5" rx="3.5" ry="2.2" fill="none" stroke="#000" stroke-width="1.2"/>
<ellipse cx="352.4" cy="431.2" rx="3.2" ry="2.0" fill="none" stroke="#000" stroke-width="1.2"/>
<ellipse cx="363.9" cy="478.1" rx="3.2" ry="2.0" fill="none" stroke="#000" stroke-width="1.2"/>
<ellipse cx="383.0" cy="455.8" rx="4.0" ry="2.5" fill="none" stroke="#000" stroke-width="1.2"/>
<path d="M100.4,503.7 L100.4,505.3 A5.0,3.5 0 0 0 110.4,505.3 L110.4,503.7" fill="#fff" stroke="#000" stroke-width="1"/>
<ellipse cx="105.4" cy="503.7" rx="5.0" ry="3.5" fill="#fff" stroke="#000" stroke-width="1"/>
<path d="M209.2,562.5 L209.2,564.1 A3.6,2.5 0 0 0 216.4,564.1 L216.4,562.5" fill="#fff" stroke="#000" stroke-width="1"/>
<ellipse cx="212.8" cy="562.5" rx="3.6" ry="2.5" fill="#fff" stroke="#000" stroke-width="1"/>
<path d="M276.9,408.7 L276.9,410.3 A3.6,2.5 0 0 0 284.1,410.3 L284.1,408.7" fill="#fff" stroke="#000" stroke-width="1"/>
<ellipse cx="280.5" cy="408.7" rx="3.6" ry="2.5" fill="#fff" stroke="#000" stroke-width="1"/>
<path d="M391.0,464.2 L391.0,465.8 A3.8,2.6 0 0 0 398.6,465.8 L398.6,464.2" fill="#fff" stroke="#000" stroke-width="1"/>
<ellipse cx="394.8" cy="464.2" rx="3.8" ry="2.6" fill="#fff" stroke="#000" stroke-width="1"/>
<path d="M228.5,563.0 L228.5,571.0 Q228.5,575.5 233.0,575.5 Q237.5,575.5 237.5,570.0 L237.5,561.0" fill="#fff" stroke="#000" stroke-width="1.3"/>
<ellipse cx="233.0" cy="570.5" rx="1.8" ry="2.2" fill="none" stroke="#000" stroke-width="1"/>
<path d="M309.1,520.0 L309.1,528.0 Q309.1,532.5 313.6,532.5 Q318.1,532.5 318.1,527.0 L318.1,518.0" fill="#fff" stroke="#000" stroke-width="1.3"/>
<ellipse cx="313.6" cy="527.5" rx="1.8" ry="2.2" fill="none" stroke="#000" stroke-width="1"/>
<path d="M273.1,467 Q275,465 277.4,464.8 L291.2,469.2 M299.2,469.2 Q301,467.5 303.5,466.3 Q306,464.3 309.4,464.1 L315.2,464.1 Q318,465 319.5,470.6 Q321,474 323.9,475 Q328,476.5 332.6,476.5 L341,476.5" fill="none" stroke="#000" stroke-width="1.2" stroke-linejoin="round" stroke-linecap="round"/>
<path d="M280.3,447.5 Q282,444 284,443.8 L291.2,448 M280,452 L291.2,457.5 M280.3,456.5 L291.2,461.5" fill="none" stroke="#000" stroke-width="1.2" stroke-linejoin="round" stroke-linecap="round"/>
<path d="M260,477 Q268,478 271.6,478 Q273.5,474 273.1,469" fill="none" stroke="#000" stroke-width="1.2" stroke-linejoin="round" stroke-linecap="round"/>
<path d="M305.7,413.5 L305.7,464.5" fill="none" stroke="#000" stroke-width="1.2" stroke-linejoin="round" stroke-linecap="round"/>
<path d="M125.8,492.8 L127.1,508.7 L132.3,513.9 L134.8,519 M128.4,493.2 L129.7,507.4 L134.8,512.6 M114.2,508.7 L125.8,507.4" fill="none" stroke="#000" stroke-width="1.2" stroke-linejoin="round" stroke-linecap="round"/>
<g stroke="#000" stroke-width="1.1" fill="#000">
<line x1="111.3" y1="43.3" x2="138.3" y2="70.3"/>
<circle cx="138.3" cy="70.3" r="1.6" stroke="none"/>
<line x1="248.5" y1="195.5" x2="223.5" y2="218.4"/>
<circle cx="223.5" cy="218.4" r="1.6" stroke="none"/>
<line x1="57.1" y1="319.7" x2="72.6" y2="304.2"/>
<circle cx="72.6" cy="304.2" r="1.6" stroke="none"/>
<line x1="214.5" y1="353.1" x2="190.6" y2="330.4"/>
<circle cx="190.6" cy="330.4" r="1.6" stroke="none"/>
<line x1="60.8" y1="588.0" x2="60.8" y2="546.2"/>
<circle cx="60.8" cy="546.2" r="1.6" stroke="none"/>
<line x1="80.7" y1="599.7" x2="80.7" y2="559.0"/>
<circle cx="80.7" cy="559.0" r="1.6" stroke="none"/>
<line x1="406.5" y1="530.7" x2="390.0" y2="546.6"/>
<circle cx="390.0" cy="546.6" r="1.6" stroke="none"/>
<line x1="53.6" y1="209.0" x2="75.3" y2="230.8"/>
<circle cx="75.3" cy="230.8" r="1.6" stroke="none"/>
<line x1="448.6" y1="337.8" x2="479.4" y2="367.2"/>
<circle cx="479.4" cy="367.2" r="1.6" stroke="none"/>
<line x1="567.1" y1="328.8" x2="541.5" y2="353.4"/>
<circle cx="541.5" cy="353.4" r="1.6" stroke="none"/>
<line x1="580.2" y1="626.6" x2="557.9" y2="604.2"/>
<circle cx="557.9" cy="604.2" r="1.6" stroke="none"/>
<line x1="370.8" y1="672.7" x2="348.2" y2="651.8"/>
<circle cx="348.2" cy="651.8" r="1.6" stroke="none"/>
</g>
<path d="M43.5,386.1 L31.0,386.1 L31.0,398.5 M48.4,386.1 L61.3,386.1 M66.1,386.1 L79.0,386.1 M83.9,386.1 L96.8,386.1 M101.6,386.1 L118.5,386.1 M139.0,386.1 L152.2,386.1 M156.7,386.1 L169.9,386.1 M174.4,386.1 L187.6,386.1 M192.1,386.1 L205.3,386.1 M209.8,386.1 L223.0,386.1 M227.5,386.1 L240.7,386.1 M245.2,386.1 L258.4,386.1 M262.9,386.1 L276.1,386.1 M280.6,386.1 L293.8,386.1 M298.3,386.1 L311.5,386.1 M316.0,386.1 L329.2,386.1 M333.7,386.1 L346.9,386.1 M351.4,386.1 L364.6,386.1 M369.1,386.1 L382.3,386.1 M386.8,386.1 L400.0,386.1 M404.5,386.1 L417.7,386.1 M423.1,386.1 L440.6,386.1 L440.6,398.3 M440.6,401.4 L440.6,414.9 M440.6,419.4 L440.6,432.9 M440.6,437.4 L440.6,450.9 M440.6,455.4 L440.6,468.9 M440.6,473.4 L440.6,486.9 M440.6,491.4 L440.6,504.9 M440.6,509.4 L440.6,522.9 M440.6,527.5 L440.6,535.5 L431.4,542.4 M320.3,626.6 L331.0,618.6 M334.4,616.0 L345.1,608.0 M348.5,605.4 L359.2,597.3 M362.6,594.8 L373.3,586.7 M376.7,584.2 L387.4,576.1 M390.8,573.5 L401.5,565.5 M404.9,562.9 L415.6,554.9 M419.0,552.3 L429.7,544.2 M292.8,636.8 L306.8,636.8 L316.0,629.9 M49.2,636.8 L62.5,636.8 M66.6,636.8 L79.9,636.8 M84.0,636.8 L97.3,636.8 M101.4,636.8 L114.7,636.8 M118.8,636.8 L132.1,636.8 M136.2,636.8 L149.5,636.8 M153.6,636.8 L166.9,636.8 M171.0,636.8 L184.3,636.8 M188.4,636.8 L201.7,636.8 M205.8,636.8 L219.1,636.8 M223.2,636.8 L236.5,636.8 M240.6,636.8 L253.9,636.8 M258.0,636.8 L271.3,636.8 M275.4,636.8 L288.7,636.8 M31.0,401.9 L31.0,414.9 M31.0,419.7 L31.0,432.7 M31.0,437.5 L31.0,450.5 M31.0,455.3 L31.0,468.3 M31.0,473.1 L31.0,486.1 M31.0,490.9 L31.0,503.9 M31.0,508.7 L31.0,521.7 M31.0,526.5 L31.0,539.5 M31.0,544.3 L31.0,557.3 M31.0,562.1 L31.0,575.1 M31.0,579.9 L31.0,592.9 M31.0,597.7 L31.0,610.7 M31.0,615.5 L31.0,628.5 M31.0,631.1 L31.0,636.8 L44.4,636.8" fill="none" stroke="#000" stroke-width="1.6" stroke-linejoin="miter"/>
<g font-family="'Liberation Sans', sans-serif" font-size="15" fill="#1616c8">
<text x="100.70" y="36.80">5</text>
<path d="M252.60,177.20 L252.60,187.90 M252.35,177.90 L249.25,180.40" stroke="#1616c8" stroke-width="1.4" fill="none" stroke-linecap="butt"/>
<path d="M260.94,177.20 L260.94,187.90 M260.69,177.90 L257.59,180.40" stroke="#1616c8" stroke-width="1.4" fill="none" stroke-linecap="butt"/>
<path d="M38.85,191.10 L38.85,201.80 M38.60,191.80 L35.50,194.30" stroke="#1616c8" stroke-width="1.4" fill="none" stroke-linecap="butt"/>
<text x="42.34" y="201.80">0</text>
<path d="M44.25,318.10 L44.25,328.80 M44.00,318.80 L40.90,321.30" stroke="#1616c8" stroke-width="1.4" fill="none" stroke-linecap="butt"/>
<text x="47.74" y="328.80">2</text>
<path d="M219.35,354.10 L219.35,364.80 M219.10,354.80 L216.00,357.30" stroke="#1616c8" stroke-width="1.4" fill="none" stroke-linecap="butt"/>
<text x="222.84" y="364.80">3</text>
<path d="M128.35,376.50 L128.35,387.20 M128.10,377.20 L125.00,379.70" stroke="#1616c8" stroke-width="1.4" fill="none" stroke-linecap="butt"/>
<text x="437.80" y="333.50">9</text>
<text x="566.10" y="320.00">8</text>
<text x="408.80" y="524.80">4</text>
<text x="54.90" y="600.00">2</text>
<text x="75.40" y="612.00">3</text>
<text x="581.90" y="639.50">7</text>
<text x="371.00" y="680.60">6</text>
</g>
<text x="14" y="682" font-family="'Liberation Sans', sans-serif" font-size="12" fill="#000">EABYDA1A.TIFF</text>
</svg>
</body></html>
